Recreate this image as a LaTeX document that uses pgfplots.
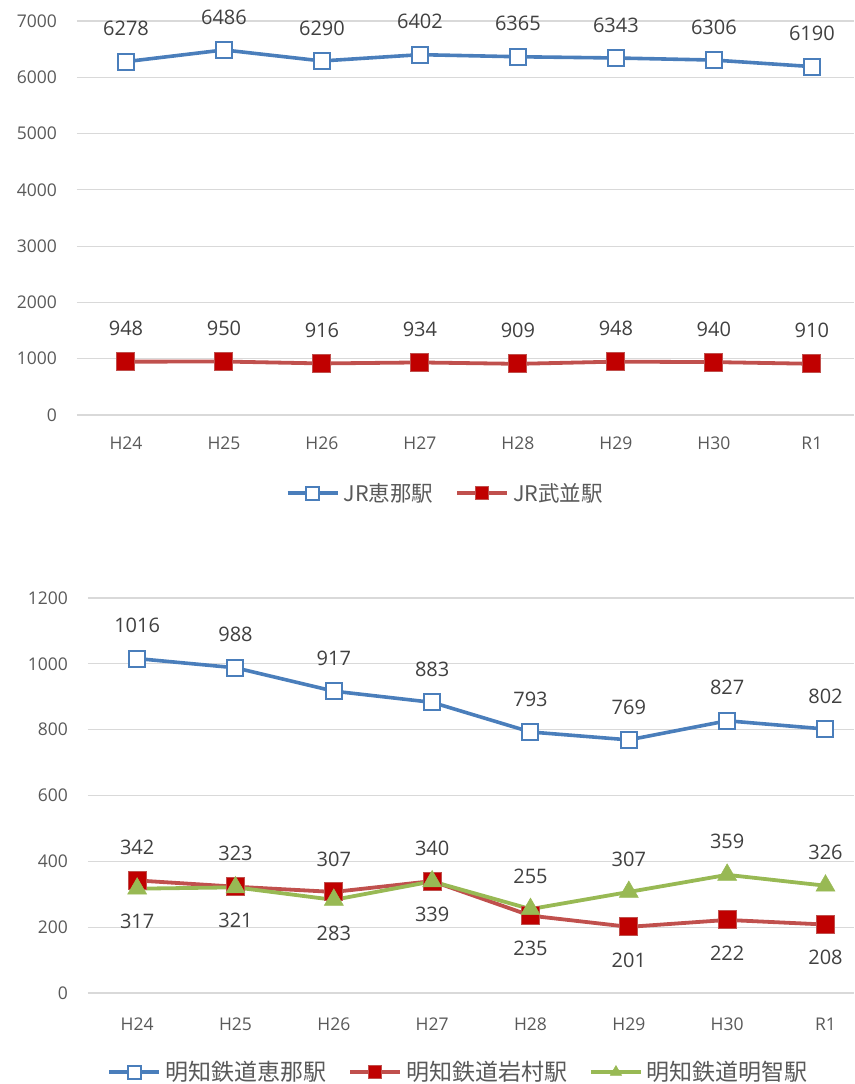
\documentclass[border=0pt]{standalone}
\usepackage{pgfplots}
\usepackage{pgfplotstable}
\pgfplotsset{compat=1.18}
\usepackage{fontspec}
\setmainfont{Open Sans}
\newfontfamily\jp{Noto Sans CJK JP}
\definecolor{cblue}{HTML}{4A7EBB}
\definecolor{credline}{HTML}{C0504D}
\definecolor{credfill}{HTML}{C00000}
\definecolor{cgreen}{HTML}{98B954}
\definecolor{tickc}{HTML}{595959}
\definecolor{labc}{HTML}{404040}
\definecolor{gridc}{HTML}{D9D9D9}

\pgfplotstableread{
x y pos
0 6278 1
1 6486 1
2 6290 1
3 6402 1
4 6365 1
5 6343 1
6 6306 1
7 6190 1
}\jrena
\pgfplotstableread{
x y pos
0 948 1
1 950 1
2 916 1
3 934 1
4 909 1
5 948 1
6 940 1
7 910 1
}\jrtakenami
\pgfplotstableread{
x y pos
0 1016 1
1 988 1
2 917 1
3 883 1
4 793 1
5 769 1
6 827 1
7 802 1
}\meena
\pgfplotstableread{
x y pos
0 342 1
1 323 1
2 307 1
3 340 1
4 235 -1
5 201 -1
6 222 -1
7 208 -1
}\meiwamura
\pgfplotstableread{
x y pos
0 317 -1
1 321 -1
2 283 -1
3 339 -1
4 255 1
5 307 1
6 359 1
7 326 1
}\meakechi

\pgfplotsset{
  /pgf/number format/assume math mode=true,
  /pgf/number format/1000 sep={},
  mystyle/.style={
    scale only axis, clip=false,
    axis line style={draw=none},
    major tick length=0pt,
    ymajorgrids, grid style={gridc, line width=1.2pt},
    xtick={0,...,7}, xticklabels={H24,H25,H26,H27,H28,H29,H30,R1},
    tick label style={font=\fontsize{17.5}{20}\selectfont, text=tickc, inner sep=0pt},
    yticklabel style={anchor=east, xshift=-20pt},
    xmin=-0.5, ymin=0,
    nodes near coords,
    visualization depends on={\thisrow{pos} \as \labpos},
    every node near coord/.append style={font=\fontsize{20}{22}\selectfont, text=labc, anchor=center, inner sep=0pt, yshift=\labpos*33pt},
    legend columns=-1,
    legend style={draw=none, fill=none, anchor=center, text=tickc,
      /tikz/every even column/.append style={column sep=20pt},
      /tikz/every odd column/.append style={column sep=2pt}},
    legend image code/.code={\draw[mark repeat=2, mark phase=2, mark size=6.5pt] plot coordinates {(0pt,0pt)(25pt,0pt)(50pt,0pt)};},
  },
  blueS/.style={cblue, line width=3.6pt, mark=square*, mark size=8pt, mark options={fill=white, draw=cblue, line width=2pt}},
  redS/.style={credline, line width=3.8pt, mark=square*, mark size=9pt, mark options={fill=credfill, draw=credline, line width=1pt}},
  greenS/.style={cgreen, line width=3.8pt, mark=triangle*, mark size=11pt, mark options={fill=cgreen, draw=cgreen, line width=0.5pt}},
}

\begin{document}
\begin{tikzpicture}[x=1pt,y=1pt]
\useasboundingbox (0,0) rectangle (854,-1084);
\begin{axis}[mystyle,
  at={(77pt,-415pt)}, anchor=south west,
  width=777pt, height=394pt,
  xmax=7.43, ymax=7000, ytick={0,1000,...,7000},
  xticklabel style={anchor=center, yshift=-28pt},
  legend style={at={(0.474,-0.198)}, font=\jp\fontsize{21.5}{24}\selectfont},
]
\addplot[blueS] table[x=x,y=y] {\jrena};
\addlegendentry{JR恵那駅}
\addplot[redS] table[x=x,y=y] {\jrtakenami};
\addlegendentry{JR武並駅}
\end{axis}
\begin{axis}[mystyle,
  at={(88pt,-993pt)}, anchor=south west,
  width=766pt, height=395pt,
  xmax=7.29, ymax=1200, ytick={0,200,...,1200},
  xticklabel style={anchor=center, yshift=-31pt},
  legend style={at={(0.484,-0.2)}, font=\jp\fontsize{23}{26}\selectfont},
]
\addplot[blueS] table[x=x,y=y] {\meena};
\addlegendentry{明知鉄道恵那駅}
\addplot[redS] table[x=x,y=y] {\meiwamura};
\addlegendentry{明知鉄道岩村駅}
\addplot[greenS] table[x=x,y=y] {\meakechi};
\addlegendentry{明知鉄道明智駅}
\end{axis}
\end{tikzpicture}
\end{document}
